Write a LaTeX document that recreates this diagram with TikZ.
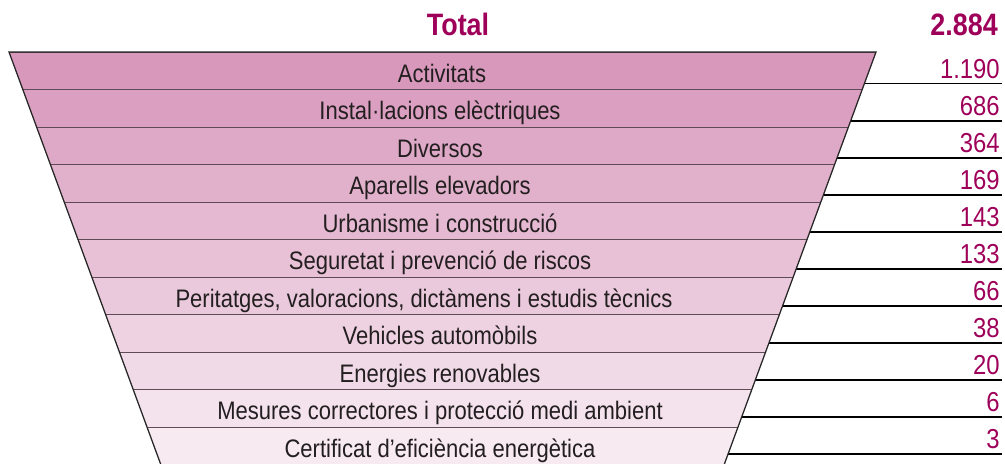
\documentclass[tikz,border=0pt]{standalone}
\usepackage{fontspec}
\setmainfont{Liberation Sans}[FakeStretch=0.87]
\usepackage{xcolor}
\usepackage{tikz}
\definecolor{funnelpink}{RGB}{216,152,187}
\definecolor{totalmagenta}{RGB}{158,0,89}
\definecolor{dividergray}{RGB}{95,75,85}
\definecolor{labelgray}{RGB}{35,31,32}
\usetikzlibrary{calc}

\begin{document}
\begin{tikzpicture}[
    x=0.025cm, y=-0.025cm,
    rowlabel/.style={anchor=base, text=labelgray, inner sep=0pt, font=\fontsize{18}{20}\selectfont},
    rowvalue/.style={anchor=base east, text=totalmagenta, inner sep=0pt, font=\fontsize{19.5}{21}\selectfont},
    totaltext/.style={text=totalmagenta, inner sep=0pt, font=\bfseries\fontsize{22}{24}\selectfont},
    divider/.style={draw=dividergray, line width=0.7pt},
    funneledge/.style={draw=black!85, line width=0.9pt},
    valueline/.style={draw=black, line width=1.4pt}
]
\useasboundingbox (0,0) rectangle (1005,463);
\clip (0,0) rectangle (1005,463);

% Header
\node[totaltext, anchor=base] (total) at (458,35) {Total};
\node[totaltext, anchor=base east] (totalval) at (998,35) {2.884};

% Funnel rows
\foreach \lab/\val/\cx [count=\i] in {
    Activitats/1.190/442,
    Instal·lacions elèctriques/686/440,
    Diversos/364/440,
    Aparells elevadors/169/440,
    Urbanisme i construcció/143/440,
    Seguretat i prevenció de riscos/133/440,
    {Peritatges, valoracions, dictàmens i estudis tècnics}/66/424,
    Vehicles automòbils/38/440,
    Energies renovables/20/440,
    Mesures correctores i protecció medi ambient/6/440,
    Certificat d’eficiència energètica/3/440}{
  \pgfmathsetmacro{\yt}{52+37.5*(\i-1)}
  \pgfmathsetmacro{\yb}{\yt+37.5}
  \pgfmathsetmacro{\yr}{83.5+37.05*(\i-1)}
  \pgfmathtruncatemacro{\pct}{100-8*(\i-1)}
  \fill[funnelpink!\pct] ({9+0.368*(\yt-52)},\yt) -- ({876-0.368*(\yt-52)},\yt)
    -- ({876-0.368*(\yb-52)},\yb) -- ({9+0.368*(\yb-52)},\yb) -- cycle;
  \draw[divider] ({9+0.368*(\yt-52)},\yt) -- ({876-0.368*(\yt-52)},\yt);
  \node[rowlabel] (lab\i) at (\cx,{(\yt+\yb)/2+11.5}) {\lab};
  % value and its line
  \coordinate (edge\i) at ({876-0.368*(\yr-52)},\yr);
  \coordinate (end\i) at (1002,\yr);
  \node[rowvalue] (val\i) at (1000,\yr-5.5) {\val};
  \draw[valueline] (edge\i) -- (end\i);
}

% Funnel outline
\coordinate (tl) at (9,52);
\coordinate (tr) at (876,52);
\coordinate (bl) at (160.8,464.5);
\coordinate (br) at (724.2,464.5);
\draw[funneledge] (bl) -- (tl) -- (tr) -- (br);

\end{tikzpicture}
\end{document}
